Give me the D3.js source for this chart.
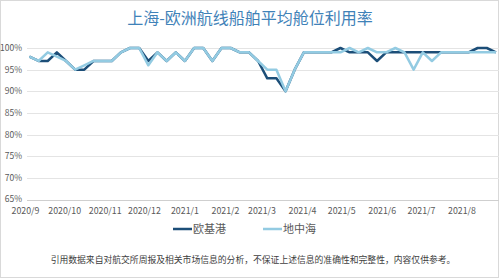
<!DOCTYPE html>
<html>
<head>
<meta charset="utf-8">
<script src="https://cdn.jsdelivr.net/npm/d3@7"></script>
<style>
	body { margin: 0; background: #fff; }
	text { font-family: "Noto Sans CJK SC", "Noto Sans", sans-serif; }
</style>
</head>
<body>
<div id="chart"></div>
<script>
	// weekly report dates (Fridays)
	var weeks = [
		"2020-09-04", "2020-09-11", "2020-09-18", "2020-09-25",
		"2020-10-02", "2020-10-09", "2020-10-16", "2020-10-23", "2020-10-30",
		"2020-11-06", "2020-11-13", "2020-11-20", "2020-11-27",
		"2020-12-04", "2020-12-11", "2020-12-18", "2020-12-25",
		"2021-01-01", "2021-01-08", "2021-01-15", "2021-01-22", "2021-01-29",
		"2021-02-05", "2021-02-12", "2021-02-19", "2021-02-26",
		"2021-03-05", "2021-03-12", "2021-03-19", "2021-03-26",
		"2021-04-02", "2021-04-09", "2021-04-16", "2021-04-23", "2021-04-30",
		"2021-05-07", "2021-05-14", "2021-05-21", "2021-05-28",
		"2021-06-04", "2021-06-11", "2021-06-18", "2021-06-25",
		"2021-07-02", "2021-07-09", "2021-07-16", "2021-07-23", "2021-07-30",
		"2021-08-06", "2021-08-13", "2021-08-20", "2021-08-27"
	];

	// 欧基港
	var europe = [
		98, 97, 97, 99, 97, 95, 95, 97, 97, 97, 99, 100, 100,
		97, 99, 97, 99, 97, 100, 100, 97, 100, 100, 99, 99, 97,
		93, 93, 90, 95, 99, 99, 99, 99, 100, 99, 99, 99, 97,
		99, 99, 99, 99, 99, 99, 99, 99, 99, 99, 100, 100, 99
	];

	// 地中海
	var med = [
		98, 97, 99, 98, 97, 95, 96, 97, 97, 97, 99, 100, 100,
		96, 99, 97, 99, 97, 100, 100, 97, 100, 100, 99, 99, 97,
		95, 95, 90, 95, 99, 99, 99, 99, 99, 100, 99, 100, 99,
		99, 100, 99, 95, 99, 97, 99, 99, 99, 99, 99, 99, 99
	];

	var monthLabels = ["2020/9", "2020/10", "2020/11", "2020/12", "2021/1", "2021/2",
		"2021/3", "2021/4", "2021/5", "2021/6", "2021/7", "2021/8"];
	var yTicks = [65, 70, 75, 80, 85, 90, 95, 100];

	var seriesNames = ["欧基港", "地中海"];
	var seriesColors = ["#1c4e78", "#93cbe2"];

	var width = 499;
	var height = 279;

	var parseDay = d3.timeParse("%Y-%m-%d");
	var parseMonth = d3.timeParse("%Y/%m");

	var svg = d3.select("#chart")
		.append("svg")
		.attr("width", width)
		.attr("height", height);

	svg.append("rect")
		.attr("x", 0.5)
		.attr("y", 0.5)
		.attr("width", width - 1)
		.attr("height", height - 2)
		.style("fill", "#fff")
		.style("stroke", "#d9d9d9");

	var x = d3.scaleTime()
		.domain([parseDay("2020-09-01"), parseDay("2021-09-01")])
		.range([25.5, 502.5]);

	var y = d3.scaleLinear()
		.domain([65, 100])
		.range([199.5, 48]);

	svg.append("text")
		.attr("x", 250)
		.attr("y", 24)
		.attr("text-anchor", "middle")
		.style("font-size", "16px")
		.style("fill", "#3f82b8")
		.text("上海-欧洲航线船舶平均舱位利用率");

	// gridlines
	svg.selectAll(".grid")
		.data(yTicks)
		.enter()
		.append("line")
		.attr("class", "grid")
		.attr("x1", 27)
		.attr("x2", width)
		.attr("y1", function (d) { return Math.round(y(d)) + 0.5; })
		.attr("y2", function (d) { return Math.round(y(d)) + 0.5; })
		.style("stroke", function (d) { return d == 65 ? "#cfcfcf" : "#e4e4e4"; })
		.style("stroke-width", 1);

	svg.selectAll(".ylab")
		.data(yTicks)
		.enter()
		.append("text")
		.attr("class", "ylab")
		.attr("x", 22)
		.attr("y", function (d) { return y(d); })
		.attr("dy", "0.35em")
		.attr("text-anchor", "end")
		.style("font-size", "8.5px")
		.style("fill", "#595959")
		.text(function (d) { return d + "%"; });

	svg.selectAll(".xlab")
		.data(monthLabels)
		.enter()
		.append("text")
		.attr("class", "xlab")
		.attr("x", function (d) { return x(parseMonth(d)); })
		.attr("y", 214)
		.attr("text-anchor", "middle")
		.style("font-size", "8.8px")
		.style("fill", "#595959")
		.text(function (d) { return d; });

	var line = d3.line()
		.x(function (d, i) { return x(parseDay(weeks[i])); })
		.y(function (d) { return y(d); });

	svg.selectAll(".series")
		.data([europe, med])
		.enter()
		.append("path")
		.attr("class", "series")
		.attr("d", line)
		.style("fill", "none")
		.style("stroke", function (d, i) { return seriesColors[i]; })
		.style("stroke-width", 2.5)
		.style("stroke-linejoin", "round");

	// legend
	var legendX = [173, 263];
	var legend = svg.selectAll(".legend")
		.data(seriesNames)
		.enter()
		.append("g")
		.attr("class", "legend")
		.attr("transform", function (d, i) { return "translate(" + legendX[i] + ",229)"; });

	legend.append("line")
		.attr("x1", 0)
		.attr("x2", 19)
		.style("stroke", function (d, i) { return seriesColors[i]; })
		.style("stroke-width", 2.5);

	legend.append("text")
		.attr("x", 20)
		.attr("dy", "0.36em")
		.style("font-size", "11px")
		.style("fill", "#595959")
		.text(function (d) { return d; });

	svg.append("text")
		.attr("x", 253)
		.attr("y", 263)
		.attr("text-anchor", "middle")
		.style("font-size", "8.8px")
		.style("fill", "#404040")
		.text("引用数据来自对航交所周报及相关市场信息的分析，不保证上述信息的准确性和完整性，内容仅供参考。");
</script>
</body>
</html>
